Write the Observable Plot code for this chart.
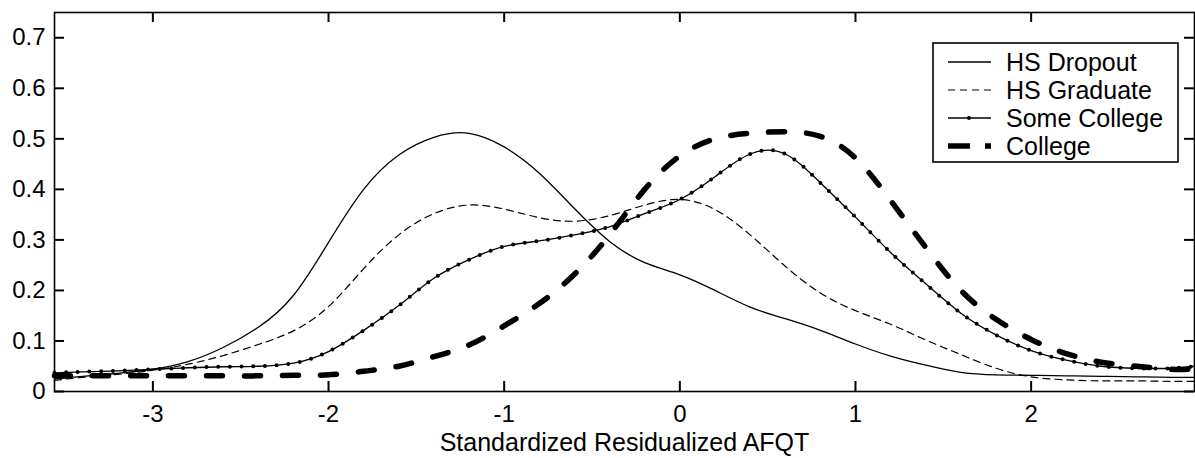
<!DOCTYPE html>
<html>
<head>
<meta charset="utf-8">
<script src="https://cdn.jsdelivr.net/npm/d3@7"></script>
<script src="https://cdn.jsdelivr.net/npm/@observablehq/plot@0.6"></script>
<style>
  html, body { margin: 0; padding: 0; background: white; }
  #chart { width: 1195px; height: 458px; }
</style>
</head>
<body>
<div id="chart"></div>
<script>
// ---- data ----
const xs = [-3.56,-3.4,-3.2,-3.0,-2.8,-2.6,-2.4,-2.2,-2.0,-1.8,-1.6,-1.4,-1.2,-1.0,-0.8,-0.6,-0.4,-0.2,0,0.2,0.4,0.6,0.8,1.0,1.2,1.4,1.6,1.8,2.0,2.2,2.4,2.6,2.8,2.93];
const hsDropout   = [0.025,0.030,0.036,0.044,0.059,0.087,0.127,0.19,0.295,0.40,0.468,0.503,0.511,0.484,0.432,0.362,0.297,0.255,0.231,0.20,0.167,0.144,0.121,0.094,0.070,0.052,0.038,0.033,0.032,0.031,0.030,0.029,0.028,0.028];
const hsGraduate  = [0.022,0.028,0.034,0.042,0.054,0.071,0.093,0.12,0.168,0.243,0.31,0.352,0.369,0.361,0.344,0.337,0.348,0.369,0.38,0.36,0.31,0.248,0.195,0.16,0.133,0.102,0.073,0.046,0.029,0.023,0.021,0.021,0.02,0.02];
const someCollege = [0.037,0.039,0.041,0.044,0.047,0.049,0.05,0.056,0.079,0.121,0.17,0.224,0.261,0.287,0.298,0.31,0.326,0.352,0.38,0.425,0.47,0.47,0.413,0.345,0.275,0.213,0.155,0.112,0.081,0.062,0.05,0.046,0.046,0.05];
const college     = [0.031,0.031,0.031,0.031,0.031,0.031,0.031,0.032,0.033,0.04,0.05,0.069,0.092,0.13,0.174,0.232,0.31,0.40,0.466,0.50,0.511,0.514,0.505,0.462,0.378,0.285,0.20,0.143,0.103,0.075,0.058,0.05,0.044,0.045];
const seriesNames = ["HS Dropout", "HS Graduate", "Some College", "College"];
const xTicks = [-3, -2, -1, 0, 1, 2];
const yTicks = [0, 0.1, 0.2, 0.3, 0.4, 0.5, 0.6, 0.7];
const xTitle = "Standardized Residualized AFQT";
const xDomain = [-3.56, 2.93];
const yDomain = [0, 0.75];

// ---- table built from the arrays ----
const seriesValues = [hsDropout, hsGraduate, someCollege, college];
const table = seriesNames.flatMap((name, i) => xs.map((x, j) => ({series: name, x, y: seriesValues[i][j]})));
const of = name => table.filter(d => d.series === name);

// ---- layout ----
const W = 1195, H = 458;
const mL = 54, mR = 1, mT = 12, mB = 67;
const innerW = W - mL - mR, innerH = H - mT - mB;
const tickLen = 10;
// tick length expressed in each scale's units (so the ticks go through Plot's scales)
const tickDy = tickLen * (yDomain[1] - yDomain[0]) / innerH;
const tickDx = tickLen * (xDomain[1] - xDomain[0]) / innerW;
const fmt = d => String(d);
const font = '"Liberation Sans", Arial, Helvetica, sans-serif';
const curve = "natural";
const tickStyle = {stroke: "black", strokeWidth: 2};

const chart = Plot.plot({
  width: W, height: H,
  marginLeft: mL, marginRight: mR, marginTop: mT, marginBottom: mB,
  x: {domain: xDomain},
  y: {domain: yDomain},
  style: {fontFamily: font, fontSize: "24px", color: "black", background: "white", overflow: "visible"},
  marks: [
    Plot.axisX(xTicks, {anchor: "bottom", tickSize: 0, tickPadding: 13, tickFormat: fmt, label: null, fontSize: 24}),
    Plot.axisY(yTicks, {anchor: "left", tickSize: 0, tickPadding: 9, tickFormat: fmt, label: null, fontSize: 24}),
    // inward ticks on all four sides of the frame
    Plot.ruleX(xTicks, {x: d => d, y1: yDomain[0], y2: yDomain[0] + tickDy, ...tickStyle}),
    Plot.ruleX(xTicks, {x: d => d, y1: yDomain[1], y2: yDomain[1] - tickDy, ...tickStyle}),
    Plot.ruleY(yTicks, {y: d => d, x1: xDomain[0], x2: xDomain[0] + tickDx, ...tickStyle}),
    Plot.ruleY(yTicks, {y: d => d, x1: xDomain[1], x2: xDomain[1] - tickDx, ...tickStyle}),
    Plot.line(of("HS Dropout"), {x: "x", y: "y", stroke: "black", strokeWidth: 1.3, curve}),
    Plot.line(of("HS Graduate"), {x: "x", y: "y", stroke: "black", strokeWidth: 1.2, strokeDasharray: "7,5", curve}),
    Plot.line(of("Some College"), {x: "x", y: "y", stroke: "black", strokeWidth: 1.3, curve}),
    Plot.line(of("Some College"), {x: "x", y: "y", stroke: "black", strokeWidth: 4, strokeDasharray: "0,11.7", strokeLinecap: "round", curve}),
    Plot.line(of("College"), {x: "x", y: "y", stroke: "black", strokeWidth: 5.5, strokeDasharray: "16,22", curve}),
    Plot.frame({stroke: "black", strokeWidth: 1.6}),
    Plot.text([xTitle], {text: d => d, frameAnchor: "bottom", dy: 51, fontSize: 25, lineAnchor: "middle"})
  ]
});
document.getElementById("chart").appendChild(chart);

// ---- legend (inside the SVG, top right) ----
const svg = d3.select(chart);
const lg = svg.append("g").attr("transform", "translate(933,43)");
lg.append("rect").attr("width", 245).attr("height", 119)
  .attr("fill", "white").attr("stroke", "black").attr("stroke-width", 1.6);
const legendStyles = [
  {dash: null, width: 1.3, dot: false},
  {dash: "7,5", width: 1.2, dot: false},
  {dash: null, width: 1.3, dot: true},
  {dash: "22,15", width: 5.5, dot: false}
];
seriesNames.forEach((name, i) => {
  const cy = 19 + i * 28;
  const s = legendStyles[i];
  const ln = lg.append("line").attr("x1", 15).attr("x2", 58).attr("y1", cy).attr("y2", cy)
    .attr("stroke", "black").attr("stroke-width", s.width);
  if (s.dash) ln.attr("stroke-dasharray", s.dash);
  if (s.dot) lg.append("circle").attr("cx", 36).attr("cy", cy).attr("r", 2).attr("fill", "black");
  lg.append("text").attr("x", 73).attr("y", cy).attr("dy", "0.35em")
    .attr("text-anchor", "start")
    .attr("font-family", font).attr("font-size", 25).attr("fill", "black").text(name);
});
</script>
</body>
</html>
